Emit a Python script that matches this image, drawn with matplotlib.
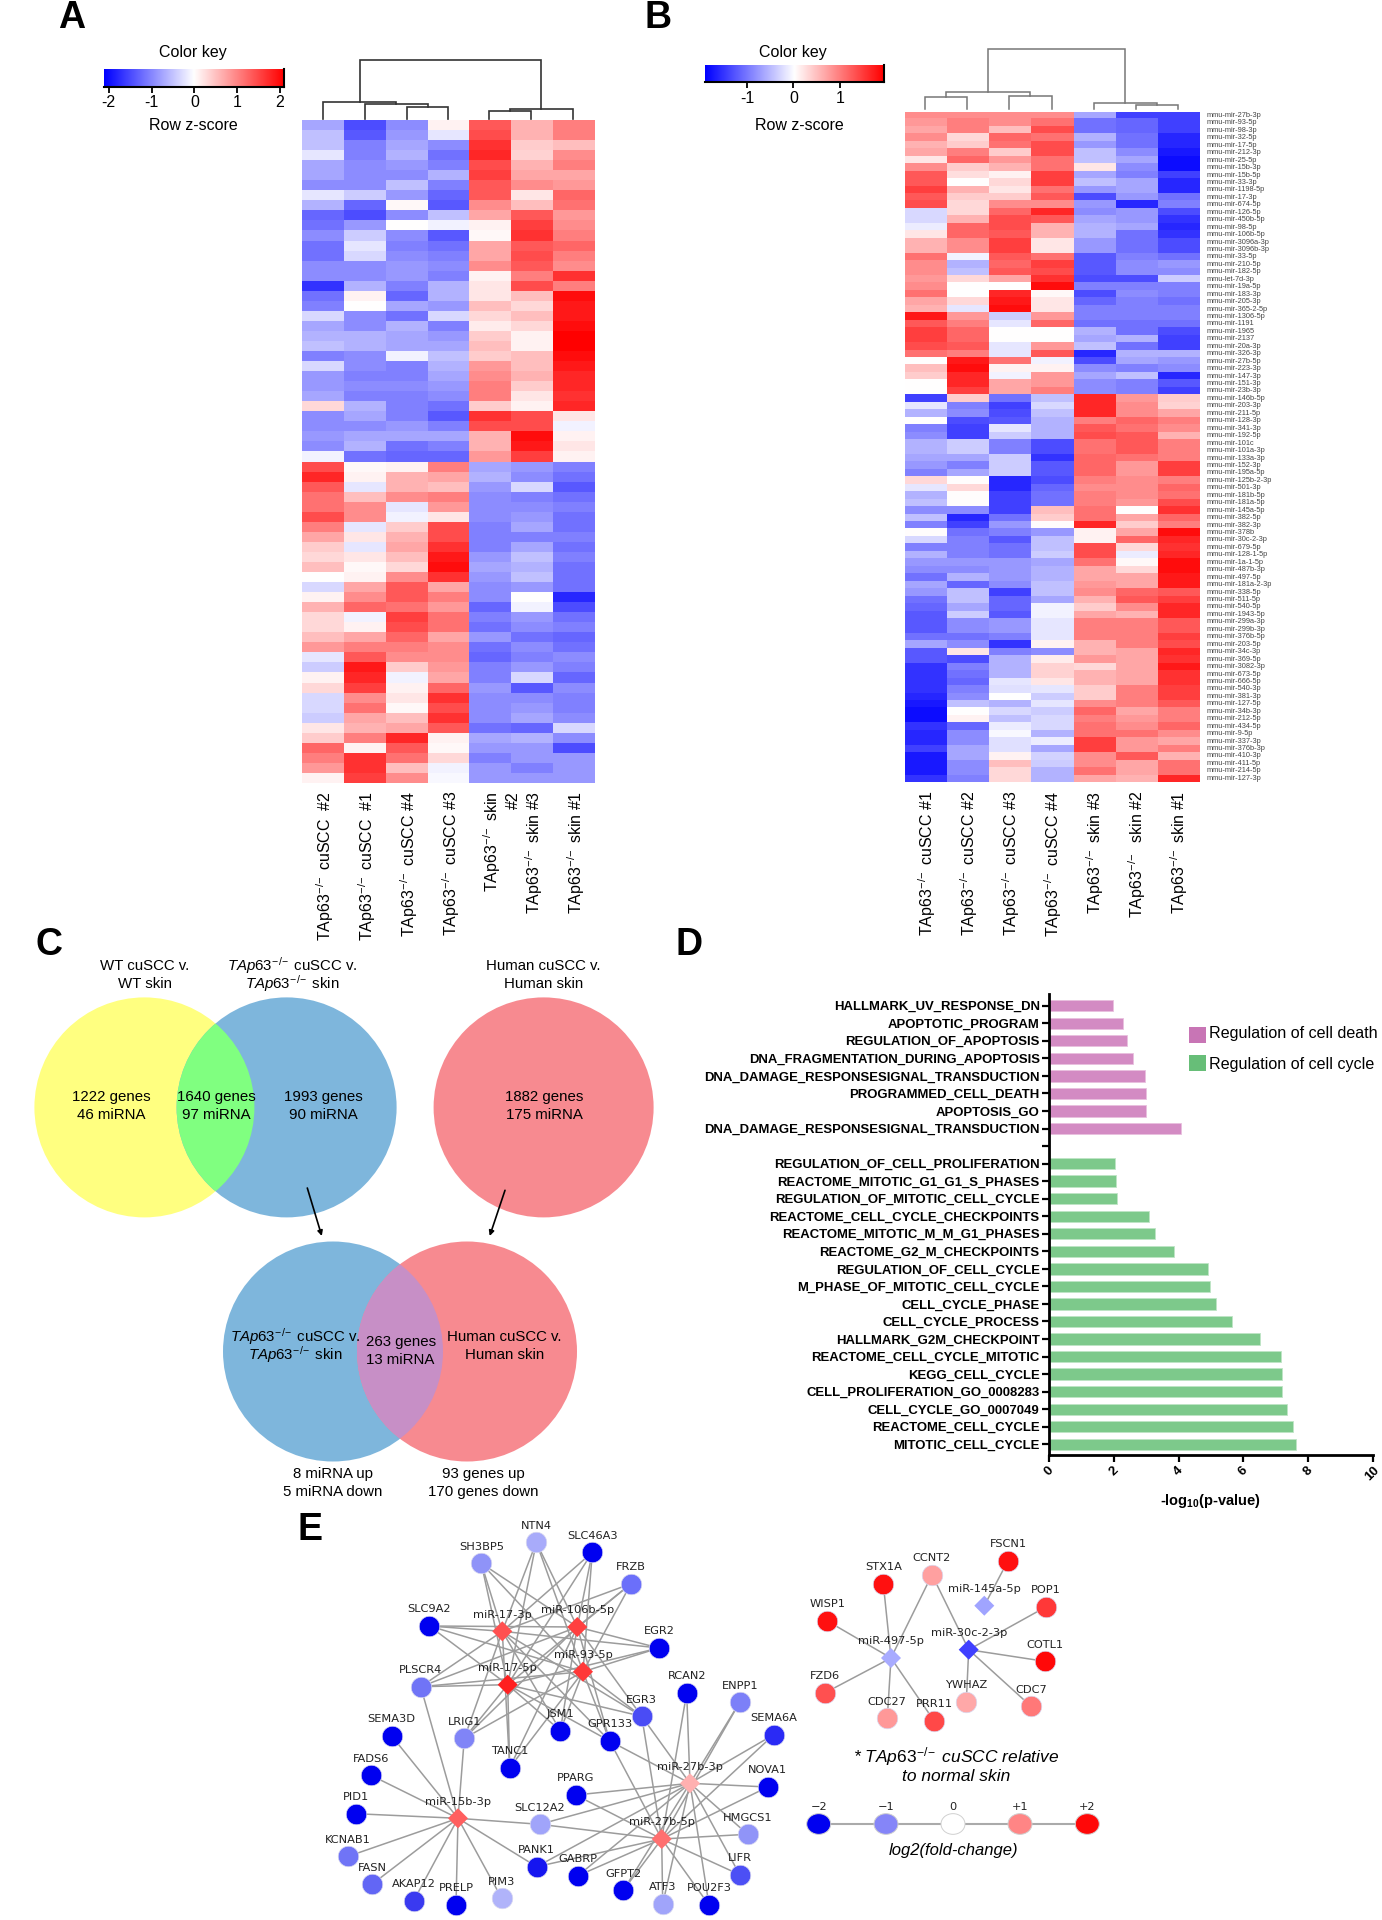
"""Multi-panel figure: heatmaps, Venn diagrams, enrichment bars and miRNA networks."""
import numpy as np
import matplotlib
matplotlib.use("Agg")
import matplotlib.pyplot as plt
from matplotlib.patches import Circle, Ellipse, Rectangle

plt.rcParams["font.family"] = ["Liberation Sans", "DejaVu Sans"]
plt.rcParams["mathtext.fontset"] = "custom"
plt.rcParams["mathtext.rm"] = "Liberation Sans"
plt.rcParams["mathtext.it"] = "Liberation Sans:italic"
plt.rcParams["mathtext.bf"] = "Liberation Sans:bold"
plt.rcParams["mathtext.default"] = "regular"

W, H = 1382, 1920
TAP = r"TAp63$^{\!-\!/\!-}$"
TAP_IT = r"$\it{TAp63}^{\!-\!/\!-}$"

# ---------------------------------------------------------------------------
# Panel A data
# ---------------------------------------------------------------------------
labels_a = [TAP + " cuSCC  #2", TAP + " cuSCC  #1", TAP + " cuSCC #4",
            TAP + " cuSCC #3", TAP + " skin\n#2", TAP + " skin #3",
            TAP + " skin #1"]
heat_a_upper = [
    [-.7, -1.4, -.9, .1, 1.3, .6, 1.0], [-.5, -1.3, -.8, -.2, 1.4, .6, 1.0],
    [-.5, -1.0, -.7, -.9, 1.6, .4, .5], [-.2, -1.0, -.6, -1.1, 1.7, .35, .9],
    [-.7, -.9, -.8, -1.0, 1.4, .6, 1.0], [-.7, -.9, -.9, -.6, 1.5, .7, .7],
    [-.9, -.9, -.5, -1.0, 1.3, .9, .8], [-.2, -.4, -.8, -1.2, 1.3, .2, 1.2],
    [-.6, -1.2, .05, -1.3, .9, .5, 1.1], [-1.2, -1.4, -.9, -.5, .7, 1.3, .8],
    [-1.1, -.8, 0, -.1, .1, 1.5, .9], [-.9, -.4, -.9, -1.3, .05, 1.6, 1.0],
    [-1.1, -.2, -1.0, -1.1, .7, 1.3, 1.2], [-1.1, -.3, -.9, -1.0, .7, 1.4, 1.0],
    [-.9, -.9, -.8, -.9, .9, 1.3, .9], [-.9, -.9, -.8, -1.0, .1, 1.0, 1.6],
    [-1.6, -.6, -1.0, -.6, .2, 1.4, 1.0], [-1.1, .1, -1.2, -.6, .2, .5, 1.9],
    [-1.0, 0, -.7, -.8, .5, .3, 1.8], [-.3, -.9, -1.1, -.3, .3, .5, 1.8],
    [-.7, -.9, -.6, -1.0, .15, .3, 1.9], [-.6, -.6, -.7, -.8, .4, .1, 2.0],
    [-.5, -.6, -.7, -.7, .5, .1, 2.0], [-1.0, -.9, -.1, -.5, .4, .5, 1.9],
    [-.3, -.9, -1.0, -.6, .8, .5, 1.8], [-.8, -1.0, -1.0, -.7, .9, .6, 1.7],
    [-.8, -.9, -.9, -.8, 1.0, .4, 1.7], [-.7, -1.0, -1.0, -.9, 1.0, .2, 1.6],
    [.3, -.6, -1.0, -1.1, .4, .1, 1.7], [-.9, -.7, -1.0, -1.3, 1.6, 1.4, .2],
    [-.9, -.9, -.8, -1.0, 1.4, 1.4, -.1], [-.8, -.7, -.7, -.7, .6, 1.9, .1],
    [-.9, -.6, -1.1, -1.0, .6, 1.8, .2], [-.1, -1.1, -1.2, -1.2, .8, 1.5, .1],
]
heat_a_lower = [
    [1.4, .05, .1, 1.0, -.7, -.8, -1.0], [1.7, .1, .6, .7, -.6, -.9, -1.1],
    [1.3, -.2, .6, .5, -.8, -.3, -1.3], [1.1, .5, .9, 1.0, -.9, -1.0, -1.1],
    [1.1, .9, -.2, .8, -.9, -.9, -1.0], [1.4, .9, -.1, .2, -.9, -.8, -1.1],
    [1.0, -.2, .4, 1.4, -1.0, -.7, -1.1], [.7, .2, .6, 1.4, -1.0, -1.0, -1.0],
    [.4, -.2, .7, 1.6, -1.0, -.7, -1.1], [.3, .2, .5, 1.8, -.8, -.5, -1.0],
    [.5, .05, .3, 1.9, -.7, -.6, -1.1], [0, .1, .9, 1.6, -.8, -.5, -1.1],
    [-.3, .7, 1.3, .7, -.9, -.8, -1.1], [.1, .9, 1.3, 1.0, -.9, 0, -1.7],
    [.6, 1.2, 1.1, .8, -1.2, -.1, -1.4], [.3, -.1, 1.5, 1.1, -1.0, -.8, -1.1],
    [.3, .1, 1.4, 1.1, -1.1, -.9, -1.0], [.5, .7, 1.2, .7, -.8, -1.1, -1.2],
    [.8, 1.0, 1.0, .9, -1.1, -.9, -1.1], [-.2, 1.3, .9, .9, -1.2, -1.0, -.9],
    [-.4, 1.8, .4, .8, -1.0, -.8, -1.0], [.1, 1.7, -.1, .7, -1.0, -.3, -1.2],
    [.3, 1.5, .1, 1.2, -.8, -1.3, -.9], [-.3, .9, .2, 1.6, -.9, -.9, -1.0],
    [-.3, 1.1, .05, 1.4, -.9, -.8, -1.0], [-.4, .7, .5, 1.6, -.9, -.7, -.9],
    [.2, .6, .7, 1.3, -1.1, -1.2, -.3], [.4, 1.0, 1.7, .1, -.7, -.6, -.9],
    [1.2, .1, 1.3, .05, -.8, -.8, -1.4], [1.0, 1.6, 1.1, .3, -1.0, -.8, -.8],
    [.8, 1.6, .5, -.1, -.8, -1.0, -.8], [.1, 1.5, .9, -.05, -.8, -.8, -.8],
]
# dendrogram links: left x, right x, link y, left foot y, right foot y (pixels)
dendro_a = [(406.7, 448, 106.7, 119, 119), (365, 428, 104, 119, 106.7),
            (323.5, 396.5, 102, 119, 104), (489, 531, 111, 119, 119),
            (510, 573, 108.7, 111, 119), (359.8, 541, 60, 102, 108.7)]

# ---------------------------------------------------------------------------
# Panel B data
# ---------------------------------------------------------------------------
labels_b = [TAP + " cuSCC #1", TAP + " cuSCC #2", TAP + " cuSCC #3",
            TAP + " cuSCC #4", TAP + " skin #3", TAP + "  skin #2",
            TAP + " skin #1"]
mirna_b = ["27b-3p", "93-5p", "98-3p", "32-5p", "17-5p", "212-3p", "25-5p", "15b-3p", "15b-5p",
           "33-3p", "1198-5p", "17-3p", "674-5p", "126-5p", "450b-5p", "98-5p", "106b-5p",
           "3096a-3p", "3096b-3p", "33-5p", "210-5p", "182-5p", "let-7d-3p", "19a-5p", "183-3p",
           "205-3p", "365-2-5p", "1306-5p", "1191", "1965", "2137", "20a-3p", "326-3p", "27b-5p",
           "223-3p", "147-3p", "151-3p", "23b-3p", "146b-5p", "203-3p", "211-5p", "128-3p",
           "341-3p", "192-5p", "101c", "101a-3p", "133a-3p", "152-3p", "195a-5p", "125b-2-3p",
           "501-3p", "181b-5p", "181a-5p", "145a-5p", "382-5p", "382-3p", "378b", "30c-2-3p",
           "679-5p", "128-1-5p", "1a-1-5p", "487b-3p", "497-5p", "181a-2-3p", "338-5p", "511-5p",
           "540-5p", "1943-5p", "299a-3p", "299b-3p", "376b-5p", "203-5p", "34c-3p", "369-5p",
           "3082-3p", "673-5p", "666-5p", "540-3p", "381-3p", "127-5p", "34b-3p", "212-5p",
           "434-5p", "9-5p", "337-3p", "376b-3p", "410-3p", "411-5p", "214-5p", "127-3p"]
heat_b = [
    [.9, .9, .9, .9, -.7, -1.5, -1.5], [.8, 1.0, .9, 1.1, -1.1, -1.2, -1.5],
    [.7, 1.0, .5, 1.4, -1.1, -1.2, -1.5], [.9, .3, 1.2, 1.1, -.6, -1.1, -1.7],
    [.6, .4, 1.1, 1.4, -.8, -1.1, -1.7], [.7, 1.0, .4, 1.4, -.5, -.9, -1.8],
    [.2, 1.2, .8, 1.1, -.5, -.7, -1.9], [.9, .4, .6, 1.1, .2, -.9, -1.9],
    [1.3, .25, .1, 1.5, -.7, -1.0, -1.5], [1.3, 0, .3, 1.5, -.5, -.7, -1.7],
    [1.5, .6, .2, 1.1, -.8, -.7, -1.7], [1.3, .4, .4, 1.3, -1.4, -.8, -1.1],
    [1.4, .3, .9, .9, -.8, -1.7, -1.0], [-.3, .3, 1.2, 1.7, -.9, -.8, -1.4],
    [-.3, .6, 1.4, 1.3, -.7, -.8, -1.6], [-.15, 1.2, 1.4, .6, -.6, -.7, -1.7],
    [.2, 1.2, 1.3, .6, -.6, -1.1, -1.6], [.6, .9, 1.5, .2, -.8, -1.1, -1.4],
    [.6, .9, 1.5, .2, -.8, -1.1, -1.4], [1.1, -.1, 1.3, 1.1, -1.3, -1.0, -1.1],
    [.9, -.6, 1.2, 1.5, -1.3, -.9, -.8], [.9, -.5, 1.3, 1.4, -1.3, -.9, -.9],
    [.8, .3, .7, 1.6, -1.4, -1.4, -.4], [.9, 0, 0, 1.9, -1.0, -1.0, -1.0],
    [1.1, 0, 1.7, .05, -1.4, -.9, -1.0], [.7, .3, 1.8, .2, -1.2, -1.0, -1.1],
    [.6, -.2, 1.9, .2, -1, -1, -1], [1.8, .8, -.4, .8, -1, -1, -1],
    [1.3, 1, -.2, 1.2, -1.1, -1.1, -1.1], [1.5, 1.2, 0, 0, -.6, -1.1, -1.4],
    [1.5, 1.2, 0, 0, -.7, -.6, -1.5], [1.4, 1.3, -.2, .8, -.5, -1.1, -1.5],
    [1.1, 1.0, -.2, 1.3, -1.7, -.6, -.6], [0, 1.8, 1.1, -.1, -1.4, -.7, -.8],
    [.5, 1.9, .1, .1, -.9, -1.0, -.9], [.4, 1.7, -.1, .8, -.7, -.5, -1.7],
    [0, 1.7, .7, .8, -.9, -1.0, -1.3], [0, 1.5, .7, 1.0, -.9, -1.0, -1.5],
    [-1.5, .4, -1.1, -.5, 1.7, .8, .4], [-.2, -1.0, -1.5, -.3, 1.7, .9, .35],
    [-.6, -.9, -1.4, -.5, 1.7, .9, .7], [0, -1.4, -1.3, -.6, 1.0, 1.2, 1.0],
    [-1.0, -1.5, -.2, -.6, 1.3, 1.1, .9], [-.9, -1.5, -.4, -.6, 1.4, 1.3, .6],
    [-.6, -.4, -1.0, -1.4, 1.1, 1.3, 1.0], [-.6, -.4, -1.0, -1.4, 1.1, 1.3, 1.0],
    [-.7, -.7, -.4, -1.6, 1.2, 1.1, 1.0], [-.8, -1.0, -.4, -1.3, 1.2, .8, 1.5],
    [-1.0, -.7, -.4, -1.3, 1.2, .8, 1.5], [.3, .03, -1.7, -1.4, 1.0, .9, 1.0],
    [-.2, .3, -1.7, -1.2, .9, .9, 1.2], [-.6, .03, -1.5, -1.1, 1.0, .9, 1.1],
    [-.5, .03, -1.5, -1.1, 1.0, .8, 1.4], [-.9, -.9, -1.5, .5, 1.1, 0, 1.6],
    [-.5, -1.7, -1.1, .4, 1.1, .7, 1.2], [-1.0, -1.5, -.8, .03, 1.7, .4, 1.0],
    [.03, -1.1, -1.0, -.8, .1, .7, 1.9], [-.3, -1.0, -1.3, -.5, .1, 1.2, 1.7],
    [-1.0, -1.0, -1.1, -.5, 1.4, .3, 1.6], [-.6, -1.0, -1.1, -.4, 1.4, -.15, 1.7],
    [-.8, -.8, -.8, -.7, 1.1, .05, 1.9], [-.9, -.9, -.8, -.6, .7, .3, 1.9],
    [-1.1, -.6, -.8, -.6, .7, .7, 1.8], [-.7, -1.2, -.9, -.5, .8, .7, 1.8],
    [-.8, -.5, -1.5, -.5, .9, 1.2, 1.3], [-1.1, -.5, -1.2, -.7, .6, 1.3, 1.5],
    [-1.2, -.7, -1.2, -.1, .4, .9, 1.7], [-1.3, -.4, -1.3, -.1, .7, .6, 1.7],
    [-1.3, -.9, -.8, -.2, 1.0, 1.0, 1.3], [-1.3, -.9, -.8, -.2, 1.0, 1.0, 1.3],
    [-1.1, -1.1, -1.0, -.2, 1.0, 1.0, 1.5], [-.7, -.9, -1.6, .1, .6, 1.0, 1.4],
    [-1.3, .2, -1.0, -.9, .6, .7, 1.7], [-1.3, -1.4, -.6, .15, .8, .7, 1.6],
    [-1.6, -1.0, -.6, .35, .3, .7, 1.8], [-1.6, -1.1, -.6, .35, .6, .7, 1.6],
    [-1.6, -1.2, -.2, .2, .6, .7, 1.6], [-1.6, -1.0, -.25, -.2, .4, 1.0, 1.5],
    [-1.7, -.9, 0, -.4, .4, 1.0, 1.5], [-1.8, -.5, -.6, -.2, .9, 1.0, 1.3],
    [-1.9, 0, -.3, -.4, 1.2, .7, 1.0], [-1.9, .1, -.5, -.3, 1.0, .8, 1.0],
    [-1.6, -1.2, -.15, -.3, 1.1, .9, 1.2], [-1.7, -.9, -.05, -.6, 1.1, 1.1, .9],
    [-1.7, -.9, -.25, -.15, 1.5, .8, .7], [-1.5, -.7, -.25, -.7, 1.5, .8, 1.0],
    [-1.8, -.7, .1, -.35, .9, 1.3, .6], [-1.8, -.9, .5, -.4, .9, .7, 1.1],
    [-1.8, -.9, .3, -.6, 1.1, .7, 1.1], [-1.6, -1.0, .3, -.6, .7, .6, 1.7],
]
dendro_b = [(925.5, 967.5, 96.7, 109.3, 109.3), (1009.5, 1051.9, 95.7, 109.3, 109.3),
            (946.5, 1030.4, 92.3, 96.7, 95.7), (1135.8, 1178, 104.7, 109.3, 109.3),
            (1093.8, 1157, 103.3, 109.3, 104.7), (988.5, 1125.5, 49, 92.3, 103.3)]

# ---------------------------------------------------------------------------
# Panel D data
# ---------------------------------------------------------------------------
death_terms = ["HALLMARK_UV_RESPONSE_DN", "APOPTOTIC_PROGRAM", "REGULATION_OF_APOPTOSIS",
               "DNA_FRAGMENTATION_DURING_APOPTOSIS", "DNA_DAMAGE_RESPONSESIGNAL_TRANSDUCTION",
               "PROGRAMMED_CELL_DEATH", "APOPTOSIS_GO", "DNA_DAMAGE_RESPONSESIGNAL_TRANSDUCTION"]
death_values = [1.98, 2.27, 2.4, 2.58, 2.95, 3.0, 3.0, 4.06]
cycle_terms = ["REGULATION_OF_CELL_PROLIFERATION", "REACTOME_MITOTIC_G1_G1_S_PHASES",
               "REGULATION_OF_MITOTIC_CELL_CYCLE", "REACTOME_CELL_CYCLE_CHECKPOINTS",
               "REACTOME_MITOTIC_M_M_G1_PHASES", "REACTOME_G2_M_CHECKPOINTS",
               "REGULATION_OF_CELL_CYCLE", "M_PHASE_OF_MITOTIC_CELL_CYCLE", "CELL_CYCLE_PHASE",
               "CELL_CYCLE_PROCESS", "HALLMARK_G2M_CHECKPOINT", "REACTOME_CELL_CYCLE_MITOTIC",
               "KEGG_CELL_CYCLE", "CELL_PROLIFERATION_GO_0008283", "CELL_CYCLE_GO_0007049",
               "REACTOME_CELL_CYCLE", "MITOTIC_CELL_CYCLE"]
cycle_values = [2.02, 2.06, 2.09, 3.09, 3.28, 3.85, 4.92, 4.97, 5.14, 5.66, 6.52, 7.17, 7.19,
                7.2, 7.34, 7.53, 7.62]

# ---------------------------------------------------------------------------
# Panel E data: name -> (x, y, colour), layout in pixels
# ---------------------------------------------------------------------------
genes = {
    "NTN4": (536.3, 1542.3, "#A8ABFA"), "SH3BP5": (481.3, 1563.3, "#8F93F8"),
    "SLC46A3": (592.3, 1552.3, "#0000F0"), "FRZB": (631, 1583.7, "#6B6FFA"),
    "SLC9A2": (429.3, 1626, "#0000F0"), "EGR2": (659, 1648, "#0000F0"),
    "PLSCR4": (420.7, 1686.7, "#7074F6"), "EGR3": (641.7, 1716.3, "#4A4CF5"),
    "RCAN2": (686.7, 1693, "#0000F0"), "ENPP1": (739.7, 1702.3, "#7C80F8"),
    "SEMA6A": (773.7, 1734.7, "#2A2AF5"), "LRIG1": (464.3, 1738.3, "#8084F7"),
    "JSM1": (560.3, 1730.7, "#0000F0"), "GPR133": (609.7, 1741, "#0000F0"),
    "TANC1": (509.7, 1767.7, "#0000F0"), "SEMA3D": (391.7, 1736, "#0000F0"),
    "FADS6": (371, 1775.3, "#0000F0"), "PID1": (355.7, 1813.7, "#0000F0"),
    "KCNAB1": (348.3, 1856.3, "#7074F6"), "FASN": (372, 1884.3, "#6266F5"),
    "AKAP12": (413.7, 1900.7, "#3A3AF0"), "PRELP": (456, 1905, "#0000F0"),
    "PIM3": (501.7, 1898.3, "#B0B3FA"), "PANK1": (536.7, 1866.7, "#1515F0"),
    "GABRP": (578, 1875.7, "#0000F0"), "GFPT2": (623.3, 1890.3, "#0000F0"),
    "ATF3": (662.7, 1904, "#A0A4FA"), "POU2F3": (709, 1905, "#0000F0"),
    "LIFR": (739.7, 1874.7, "#4C4FF5"), "HMGCS1": (747.7, 1834.3, "#9094F8"),
    "NOVA1": (767.7, 1787, "#0000F0"), "PPARG": (575.7, 1795, "#0000F0"),
    "SLC12A2": (539.7, 1824.3, "#A0A4FA"),
    "FSCN1": (1008, 1560.7, "#FF1010"), "CCNT2": (932, 1574.7, "#FFA0A0"),
    "STX1A": (883.3, 1583.7, "#FF1010"), "POP1": (1045.7, 1607, "#FF3838"),
    "WISP1": (827.3, 1621, "#FF1010"), "COTL1": (1044.7, 1661.3, "#FF0808"),
    "FZD6": (824.7, 1693, "#FF5050"), "YWHAZ": (966.3, 1702, "#FFA8A8"),
    "CDC7": (1031, 1706.3, "#FF7878"), "CDC27": (887.3, 1718.3, "#FF9898"),
    "PRR11": (934, 1720.7, "#FF4848"),
}
mirnas = {
    "miR-17-3p": (502.3, 1631.3, "#FF5050"), "miR-106b-5p": (577.3, 1627, "#FF4040"),
    "miR-93-5p": (583, 1671.7, "#FF3838"), "miR-17-5p": (507.7, 1684.7, "#FF2020"),
    "miR-15b-3p": (458, 1818.3, "#FF5F5F"), "miR-27b-3p": (690, 1783.3, "#FFB0B0"),
    "miR-27b-5p": (661.7, 1839, "#FF7070"), "miR-145a-5p": (984.3, 1605.7, "#A0A4FF"),
    "miR-30c-2-3p": (968.7, 1649.7, "#4040FF"), "miR-497-5p": (891, 1658, "#A8ABFF"),
}
shared_17_93 = ["SH3BP5", "NTN4", "SLC46A3", "FRZB", "SLC9A2", "EGR2", "PLSCR4", "EGR3",
                "LRIG1", "JSM1", "GPR133", "TANC1"]
shared_27b = ["GPR133", "EGR3", "RCAN2", "ENPP1", "SEMA6A", "NOVA1", "HMGCS1", "LIFR", "POU2F3",
              "GFPT2", "ATF3", "PPARG", "SLC12A2", "GABRP", "PANK1"]
targets = {
    "miR-17-3p": shared_17_93, "miR-106b-5p": shared_17_93,
    "miR-93-5p": shared_17_93, "miR-17-5p": shared_17_93,
    "miR-15b-3p": ["SEMA3D", "FADS6", "PID1", "KCNAB1", "FASN", "AKAP12", "PRELP", "PIM3",
                   "PANK1", "SLC12A2", "PLSCR4", "LRIG1"],
    "miR-27b-3p": shared_27b, "miR-27b-5p": shared_27b,
    "miR-145a-5p": ["FSCN1"],
    "miR-30c-2-3p": ["CCNT2", "POP1", "COTL1", "CDC7", "YWHAZ"],
    "miR-497-5p": ["CCNT2", "STX1A", "WISP1", "FZD6", "CDC27", "PRR11"],
}
scale_labels = ["\u22122", "\u22121", "0", "+1", "+2"]
scale_colors = ["#0000F0", "#8585F8", "#FFFFFF", "#FF8585", "#FF0808"]


def px_axes(fig, x0, y0, x1, y1):
    return fig.add_axes([x0 / W, 1 - y1 / H, (x1 - x0) / W, (y1 - y0) / H])


def draw_heatmap(fig, box, values):
    ax = px_axes(fig, *box)
    ax.imshow(values, cmap="bwr", vmin=-2, vmax=2, aspect="auto", interpolation="nearest")
    ax.axis("off")
    return ax


def draw_key(fig, box, lims, ticks, tick_labels):
    ax = px_axes(fig, *box)
    ax.imshow(np.linspace(lims[0], lims[1], 256).reshape(1, -1), cmap="bwr", aspect="auto",
              extent=[lims[0], lims[1], 0, 1], vmin=lims[0], vmax=lims[1])
    ax.set_yticks([])
    ax.set_xticks(ticks)
    ax.set_xticklabels(tick_labels, fontsize=11.5)
    ax.tick_params(axis="x", length=4, width=1.3, pad=2)
    for side in ["top", "left"]:
        ax.spines[side].set_visible(False)
    for side in ["bottom", "right"]:
        ax.spines[side].set_linewidth(1.5)


def draw_dendro(canvas, links, color, lw):
    for xl, xr, y, foot_l, foot_r in links:
        canvas.plot([xl, xl, xr, xr], [foot_l, y, y, foot_r], color=color, lw=lw,
                    solid_joinstyle="miter", zorder=2)


def venn_pair(canvas, c1, c2, r, col1, col2, col_mid):
    p1 = Circle(c1, r, fc=col1, ec="none", zorder=1)
    p2 = Circle(c2, r, fc=col2, ec="none", zorder=1)
    canvas.add_patch(p1)
    canvas.add_patch(p2)
    mid = Circle(c1, r, fc=col_mid, ec="none", zorder=1.5)
    canvas.add_patch(mid)
    mid.set_clip_path(Circle(c2, r, transform=canvas.transData))


fig = plt.figure(figsize=(W / 100, H / 100), dpi=100)
canvas = fig.add_axes([0, 0, 1, 1])
canvas.set_xlim(0, W)
canvas.set_ylim(H, 0)
canvas.axis("off")

# Panel letters
for letter, x, y in [("A", 72, 18), ("B", 658, 18), ("C", 49, 945), ("D", 689, 945), ("E", 310, 1530)]:
    canvas.text(x, y, letter, fontsize=27, fontweight="bold", ha="center", va="center")

# Panel A
draw_key(fig, (104.3, 69.3, 283.9, 86.7), (-2.105, 2.09), [-2, -1, 0, 1, 2], ["-2", "-1", "0", "1", "2"])
canvas.text(192.5, 52, "Color key", fontsize=11.5, ha="center", va="center")
canvas.text(193, 126, "Row z-score", fontsize=11.5, ha="center", va="center")
draw_heatmap(fig, (302, 120, 595, 783), heat_a_upper + heat_a_lower)
draw_dendro(canvas, dendro_a, "#333333", 1.2)
a_x = [325, 367, 409, 451, 501, 534, 576]
for x, lab in zip(a_x, labels_a):
    canvas.text(x, 791, lab, rotation=90, fontsize=11.5, ha="center", va="top", multialignment="right")

# Panel B
draw_key(fig, (704.6, 65, 883.6, 82.3), (-1.91, 1.94), [-1, 0, 1], ["-1", "0", "1"])
canvas.text(792.5, 52, "Color key", fontsize=11.5, ha="center", va="center")
canvas.text(799, 126, "Row z-score", fontsize=11.5, ha="center", va="center")
draw_heatmap(fig, (904.5, 111.7, 1199, 782), heat_b)
draw_dendro(canvas, dendro_b, "#777777", 1.1)
b_x = [927, 969, 1011, 1053, 1095, 1137, 1179.5]
for x, lab in zip(b_x, labels_b):
    canvas.text(x, 791, lab, rotation=90, fontsize=11.5, ha="center", va="top")
row_h = (782 - 111.7) / len(mirna_b)
for i, m in enumerate(mirna_b):
    canvas.text(1207, 111.7 + row_h * (i + 0.5), "mmu-" + ("mir-" if not m.startswith("let") else "") + m,
                fontsize=5.3, color="#444444", va="center", ha="left")

# Panel C
YELLOW, BLUE, RED = "#FFFF80", "#7EB6DC", "#F78A90"
venn_pair(canvas, (144.4, 1107.4), (286.6, 1107.4), 110, YELLOW, BLUE, "#80FF80")
canvas.add_patch(Circle((543.6, 1107.4), 110, fc=RED, ec="none", zorder=1))
venn_pair(canvas, (333, 1351.5), (467, 1351.5), 110, BLUE, RED, "#C78FC6")
venn_text = [
    (145, 975, "WT cuSCC v.\nWT skin"), (292.4, 975, TAP_IT + " cuSCC v.\n" + TAP_IT + " skin"),
    (543.6, 975, "Human cuSCC v.\nHuman skin"), (111.6, 1106, "1222 genes\n46 miRNA"),
    (216, 1106, "1640 genes\n97 miRNA"), (323, 1106, "1993 genes\n90 miRNA"),
    (544, 1106, "1882 genes\n175 miRNA"), (295.7, 1346, TAP_IT + " cuSCC v.\n" + TAP_IT + " skin"),
    (400.6, 1351, "263 genes\n13 miRNA"), (504.7, 1346, "Human cuSCC v.\nHuman skin"),
    (333, 1483, "8 miRNA up\n5 miRNA down"), (483.5, 1483, "93 genes up\n170 genes down"),
]
for x, y, txt in venn_text:
    top, bottom = txt.split("\n")
    canvas.text(x, y - 9, top, fontsize=10.8, ha="center", va="center", zorder=3)
    canvas.text(x, y + 9, bottom, fontsize=10.8, ha="center", va="center", zorder=3)
for start, end in [((307.3, 1188), (321.8, 1236)), ((505, 1190.3), (489.7, 1236))]:
    canvas.annotate("", xy=end, xytext=start, zorder=3,
                    arrowprops=dict(arrowstyle="-|>,head_width=0.15,head_length=0.3", color="black",
                                    lw=1.2, shrinkA=0, shrinkB=0))

# Panel D
row_px = (1444.3 - 1005.7) / 25
bar_ax = px_axes(fig, 1049.4, 994, 1372.6, 1454.6)
bar_ax.patch.set_alpha(0)
y_death = np.arange(len(death_terms))
y_cycle = np.arange(len(cycle_terms)) + len(death_terms) + 1
bar_ax.barh(y_death, death_values, height=0.65, color="#D38BC3", edgecolor="#E8C0DE", lw=0.6)
bar_ax.barh(y_cycle, cycle_values, height=0.65, color="#7DC98B", edgecolor="#BFE5C6", lw=0.6)
bar_ax.set_xlim(0, 10)
bar_ax.set_ylim((1454.6 - 1005.7) / row_px, (994 - 1005.7) / row_px)
bar_ax.set_yticks(list(y_death) + [len(death_terms)] + list(y_cycle))
bar_ax.set_yticklabels(death_terms + [""] + cycle_terms, fontsize=9.45, fontweight="bold")
bar_ax.set_xticks(np.arange(0, 11, 2))
bar_ax.set_xticklabels([str(v) for v in range(0, 11, 2)], rotation=45, fontsize=9.5, fontweight="bold",
                       ha="center")
bar_ax.tick_params(axis="y", length=5, width=1.6, pad=2)
bar_ax.tick_params(axis="x", length=5, width=1.6, pad=2)
for side in ["top", "right"]:
    bar_ax.spines[side].set_visible(False)
for side in ["left", "bottom"]:
    bar_ax.spines[side].set_linewidth(2)
canvas.text(1210.5, 1501, r"-log$_{\mathbf{10}}$(p-value)", fontsize=10.5, fontweight="bold",
            ha="center", va="center")
legend_items = [(1026.8, 1033.5, "#C875B5", "Regulation of cell death"),
                (1055, 1064.5, "#67BE78", "Regulation of cell cycle")]
for y, text_y, col, txt in legend_items:
    canvas.add_patch(Rectangle((1189, y), 17, 16.2, fc=col, ec="none"))
    canvas.text(1209, text_y, txt, fontsize=11.6, va="center", ha="left")

# Panel E
EDGE = "#9C9C9C"
for mir, tgts in targets.items():
    mx, my, _ = mirnas[mir]
    for g in tgts:
        gx, gy, _ = genes[g]
        canvas.plot([mx, gx], [my, gy], color=EDGE, lw=1.1, zorder=1)
for name, (x, y, col) in genes.items():
    canvas.scatter([x], [y], s=218, marker="o", c=col, edgecolors="#D8D8F0", linewidths=0.5, zorder=2)
    canvas.text(x, y - 16.7, name, family="DejaVu Sans", fontsize=8.2, color="#222222", ha="center",
                va="center", zorder=4)
for name, (x, y, col) in mirnas.items():
    canvas.scatter([x], [y], s=104, marker="D", c=col, edgecolors="none", zorder=3)
    canvas.text(x, y - 16.7, name, family="DejaVu Sans", fontsize=8.2, color="#222222", ha="center",
                va="center", zorder=4)

canvas.text(955.7, 1757, "* " + TAP_IT + " cuSCC relative", fontsize=12.5, style="italic",
            ha="center", va="center")
canvas.text(955.7, 1776.7, "to normal skin", fontsize=12.5, style="italic", ha="center", va="center")
scale_x = [818.7, 886, 953, 1020, 1087.3]
canvas.plot(scale_x, [1824] * 5, color="#AAAAAA", lw=1.5, zorder=1)
for x, lab, col in zip(scale_x, scale_labels, scale_colors):
    canvas.add_patch(Ellipse((x, 1824), 24, 20.7, fc=col, ec="#D0D0D0", lw=0.7, zorder=2))
    canvas.text(x, 1807.3, lab, family="DejaVu Sans", fontsize=8.2, color="#222222", ha="center", va="center")
canvas.text(953, 1850.7, "log2(fold-change)", fontsize=12, style="italic", ha="center", va="center")

fig.savefig("out.png", dpi=100)
